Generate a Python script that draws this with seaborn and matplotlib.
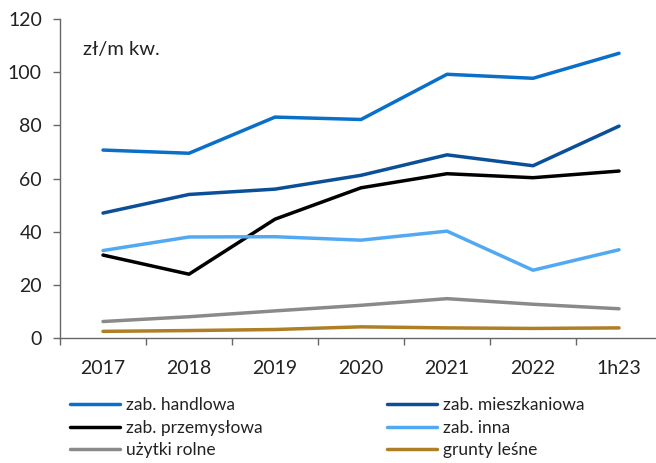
import numpy as np
import pandas as pd
import matplotlib
matplotlib.use("Agg")
import matplotlib.pyplot as plt
import seaborn as sns

periods = ["2017", "2018", "2019", "2020", "2021", "2022", "1h23"]
handlowa = [70.7, 69.5, 83.1, 82.2, 99.2, 97.7, 107.1]
mieszkaniowa = [47.0, 54.0, 56.0, 61.2, 68.9, 64.8, 79.7]
przemyslowa = [31.2, 24.0, 44.7, 56.5, 61.8, 60.3, 62.8]
inna = [32.9, 38.0, 38.1, 36.8, 40.2, 25.5, 33.2]
rolne = [6.2, 8.0, 10.2, 12.3, 14.8, 12.7, 11.0]
lesne = [2.5, 2.8, 3.2, 4.2, 3.8, 3.6, 3.8]

series = {
    "zab. handlowa": handlowa,
    "zab. mieszkaniowa": mieszkaniowa,
    "zab. przemysłowa": przemyslowa,
    "zab. inna": inna,
    "użytki rolne": rolne,
    "grunty leśne": lesne,
}
colors = {
    "zab. handlowa": "#0A6FC9",
    "zab. mieszkaniowa": "#0B4F98",
    "zab. przemysłowa": "#000000",
    "zab. inna": "#52A9F3",
    "użytki rolne": "#8A8A8A",
    "grunty leśne": "#AF7F25",
}

rows = []
for name, vals in series.items():
    for i, v in enumerate(vals):
        rows.append({"pos": i, "value": v, "series": name})
df = pd.DataFrame(rows)

sns.set_style("white")
plt.rcParams["font.family"] = ["Lato", "DejaVu Sans"]

fig = plt.figure(figsize=(6.56, 4.63), dpi=100)
ax = fig.add_axes([60 / 656, 1 - 338 / 463, 596 / 656, 319 / 463])

lw = 2.5
sns.lineplot(data=df, x="pos", y="value", hue="series", palette=colors,
             hue_order=list(series.keys()), linewidth=lw, ax=ax, legend=False)

ax.set_xlim(-0.5, 6.43)
ax.set_ylim(0, 120)
ax.set_yticks(np.arange(0, 121, 20))
ax.set_xticks(range(len(periods)))
ax.set_xticklabels(periods)
ax.set_xticks(np.arange(-0.5, 6.5, 1), minor=True)
ax.tick_params(axis="x", which="major", length=0, labelsize=14, pad=16, labelcolor="#222222")
ax.tick_params(axis="x", which="minor", length=5, width=1, direction="out", color="#666666", bottom=True)
ax.tick_params(axis="y", length=5, width=1, direction="out", color="#666666",
               labelsize=14, left=True, pad=8, labelcolor="#222222")
ax.set_xlabel("")
ax.set_ylabel("")
for s in ["top", "right"]:
    ax.spines[s].set_visible(False)
for s in ["left", "bottom"]:
    ax.spines[s].set_color("#666666")
    ax.spines[s].set_linewidth(1)

ax.text(23 / 596, (338 - 50) / 319, "zł/m kw.", transform=ax.transAxes,
        fontsize=14.5, va="center", ha="left", color="#222222")

col1 = ["zab. handlowa", "zab. przemysłowa", "użytki rolne"]
col2 = ["zab. mieszkaniowa", "zab. inna", "grunty leśne"]
for names, x0 in [(col1, 70), (col2, 387)]:
    handles = [plt.Line2D([], [], color=colors[n], linewidth=lw) for n in names]
    fig.legend(handles, names, loc="upper left", bbox_to_anchor=(x0 / 656, 1 - 397 / 463),
               frameon=False, fontsize=12.5, handlelength=2.9, handletextpad=0.35,
               labelspacing=0.38, borderaxespad=0, borderpad=0, labelcolor="#222222")

fig.savefig("out.png", dpi=100)
